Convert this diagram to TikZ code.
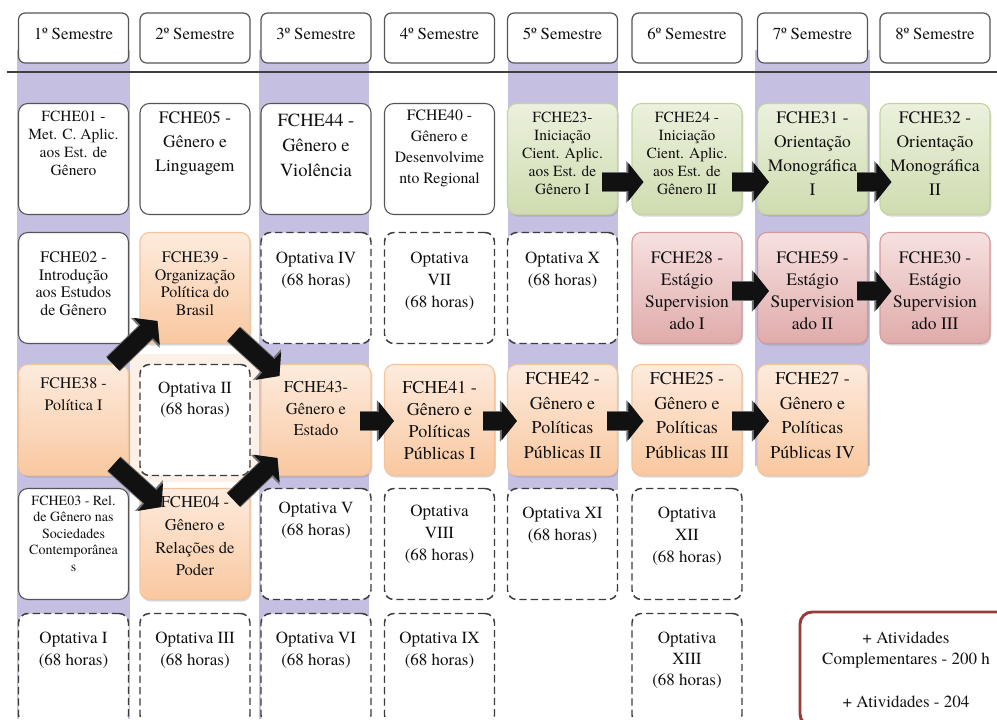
\documentclass[tikz,border=0pt]{standalone}
\usepackage{fontspec}
\setmainfont{texgyretermes-regular.otf}
\usetikzlibrary{arrows.meta,shadows}
\definecolor{lav}{HTML}{C5BFE2}
\definecolor{boxgray}{HTML}{555555}
\definecolor{dashgray}{HTML}{3C3C3C}
\definecolor{greentop}{HTML}{EBF1DD}
\definecolor{greenbot}{HTML}{CFDCB0}
\definecolor{greenedge}{HTML}{C3D49F}
\definecolor{pinktop}{HTML}{F6E1E0}
\definecolor{pinkbot}{HTML}{DFABAA}
\definecolor{pinkedge}{HTML}{D59A98}
\definecolor{peachtop}{HTML}{FDEBDD}
\definecolor{peachbot}{HTML}{F9C8A0}
\definecolor{peachedge}{HTML}{F5C39B}
\definecolor{peachglow}{HTML}{FDF1E7}
\definecolor{ativred}{HTML}{9A3B3A}
\definecolor{arrowblk}{HTML}{111111}
\definecolor{arrowedge}{HTML}{707070}
\definecolor{textcol}{HTML}{111111}
\definecolor{headline}{HTML}{404040}
\tikzset{
  cellbase/.style={rounded corners=7pt, minimum width=82.5pt, minimum height=83.25pt, inner sep=0pt, line width=0.8pt},
  plainbox/.style={cellbase, draw=boxgray, fill=white},
  optbox/.style={cellbase, draw=dashgray, fill=white, line width=1.1pt, dash pattern=on 5.5pt off 3pt},
  boxshadow/.style={drop shadow={shadow xshift=1pt, shadow yshift=-1.5pt, opacity=0.3}},
  greenbox/.style={cellbase, boxshadow, draw=greenedge, top color=greentop, bottom color=greenbot},
  pinkbox/.style={cellbase, boxshadow, draw=pinkedge, top color=pinktop, bottom color=pinkbot},
  peachbox/.style={cellbase, boxshadow, draw=peachedge, top color=peachtop, bottom color=peachbot},
  headbox/.style={rounded corners=5pt, minimum width=82.5pt, minimum height=37.5pt, inner sep=0pt, draw=boxgray, line width=0.9pt, fill=white},
  celltext/.style={anchor=north, align=center, inner sep=0pt, text=textcol},
  ativbox/.style={rounded corners=9pt, minimum width=159pt, minimum height=85.5pt, inner sep=0pt, draw=ativred, line width=2.2pt, fill=white},
  blockarrow/.style={draw=arrowblk, line width=13.5pt, -{Triangle[length=11.25pt,width=27.75pt]},
    preaction={draw=arrowedge, line width=15pt, -{Triangle[length=12.75pt,width=30.5pt]}}}
}
\newcommand\mycell[8]{%
  \node[#2] (#1) at (#3,#4) {};
  \node[celltext, font=\fontsize{#6}{#7}\selectfont] (#1t) at (#3,{#5-0.44*#6}) {#8};%
}
\newcommand\myhead[3]{%
  \node[headbox] (#1) at (#2,38) {};
  \node[celltext, font=\fontsize{12.6}{14}\selectfont] (#1t) at (#2,{33-0.44*12.6}) {#3};%
}
\begin{document}
\begin{tikzpicture}[x=0.75pt,y=-0.75pt]
\useasboundingbox (0,0) rectangle (997,719);
\clip (0,0) rectangle (997,719);
\fill[white] (0,0) rectangle (997,719);
% lavender columns
\fill[lav] (17,50) rectangle (130,719);
\fill[lav] (259,50) rectangle (369,719);
\fill[lav] (508,50) rectangle (618,490);
\fill[lav] (755,50) rectangle (870,466);
\fill[peachglow] (130,354) rectangle (259,482);
% headers
\myhead{h1}{73.5}{1º Semestre}
\myhead{h2}{195}{2º Semestre}
\myhead{h3}{316}{3º Semestre}
\myhead{h4}{439.5}{4º Semestre}
\myhead{h5}{562.5}{5º Semestre}
\myhead{h6}{687}{6º Semestre}
\myhead{h7}{812.5}{7º Semestre}
\myhead{h8}{935}{8º Semestre}
\draw[headline, line width=1pt] (7,72) -- (997,72);
% row 1
\mycell{c11}{plainbox}{73.5}{159}{116}{11.6}{13.5}{FCHE01 -\\Met. C. Aplic.\\aos Est. de\\Gênero}
\mycell{c21}{plainbox}{195}{159}{117}{13.1}{18}{FCHE05 -\\Gênero e\\Linguagem}
\mycell{c31}{plainbox}{316}{159}{120}{13.9}{18.75}{FCHE44 -\\Gênero e\\Violência}
\mycell{c41}{plainbox}{439.5}{159}{115}{11.8}{15.75}{FCHE40 -\\Gênero e\\Desenvolvime\\nto Regional}
\mycell{c51}{greenbox}{562.5}{159}{117}{11.6}{13.5}{FCHE23-\\Iniciação\\Cient. Aplic.\\aos Est. de\\Gênero I}
\mycell{c61}{greenbox}{687}{159}{117}{11.6}{13.5}{FCHE24 -\\Iniciação\\Cient. Aplic.\\aos Est. de\\Gênero II}
\mycell{c71}{greenbox}{812.5}{159}{117}{13.1}{18}{FCHE31 -\\Orientação\\Monográfica\\I}
\mycell{c81}{greenbox}{935}{159}{117}{13.1}{18}{FCHE32 -\\Orientação\\Monográfica\\II}
% row 2
\mycell{c12}{plainbox}{73.5}{288}{257}{12}{13.1}{FCHE02 -\\Introdução\\aos Estudos\\de Gênero}
\mycell{c22}{peachbox}{195}{288}{257}{12}{13.1}{FCHE39 -\\Organização\\Política do\\Brasil}
\mycell{c32}{optbox}{316}{288}{257}{12.75}{16.5}{Optativa IV\\(68 horas)}
\mycell{c42}{optbox}{439.5}{288}{257}{12.75}{16.5}{Optativa\\VII\\(68 horas)}
\mycell{c52}{optbox}{562.5}{288}{257}{12.75}{16.5}{Optativa X\\(68 horas)}
\mycell{c62}{pinkbox}{687}{288}{257}{13.1}{16.5}{FCHE28 -\\Estágio\\Supervision\\ado I}
\mycell{c72}{pinkbox}{812.5}{288}{257}{13.1}{16.5}{FCHE59 -\\Estágio\\Supervision\\ado II}
\mycell{c82}{pinkbox}{935}{288}{257}{13.1}{16.5}{FCHE30 -\\Estágio\\Supervision\\ado III}
% row 3
\mycell{c13}{peachbox}{73.5}{420}{383}{12}{16.5}{FCHE38 -\\Política I}
\mycell{c23}{optbox}{195}{420}{387}{12.75}{15.75}{Optativa II\\(68 horas)}
\mycell{c33}{peachbox}{316}{420}{387}{12.4}{16.1}{FCHE43-\\Gênero e\\Estado}
\mycell{c43}{peachbox}{439.5}{420}{387}{13.5}{16.5}{FCHE41 -\\Gênero e\\Políticas\\Públicas I}
\mycell{c53}{peachbox}{562.5}{420}{378}{13.5}{18.4}{FCHE42 -\\Gênero e\\Políticas\\Públicas II}
\mycell{c63}{peachbox}{687}{420}{378}{13.5}{18.4}{FCHE25 -\\Gênero e\\Políticas\\Públicas III}
\mycell{c73}{peachbox}{812.5}{420}{378}{13.5}{18.4}{FCHE27 -\\Gênero e\\Políticas\\Públicas IV}
% row 4
\mycell{c14}{plainbox}{73.5}{544}{500}{10.5}{12.4}{FCHE03 - Rel.\\de Gênero nas\\Sociedades\\Contemporânea\\s}
\mycell{c24}{peachbox}{195}{544}{502}{12.4}{16.9}{FCHE04 -\\Gênero e\\Relações de\\Poder}
\mycell{c34}{optbox}{316}{544}{507}{12.75}{16.5}{Optativa V\\(68 horas)}
\mycell{c44}{optbox}{439.5}{544}{510}{12.75}{16.5}{Optativa\\VIII\\(68 horas)}
\mycell{c54}{optbox}{562.5}{544}{512}{12.75}{16.5}{Optativa XI\\(68 horas)}
\mycell{c64}{optbox}{687}{544}{512}{12.75}{16.5}{Optativa\\XII\\(68 horas)}
% row 5
\mycell{c15}{optbox}{73.5}{669}{637}{12.75}{16.5}{Optativa I\\(68 horas)}
\mycell{c25}{optbox}{195}{669}{637}{12.75}{16.5}{Optativa III\\(68 horas)}
\mycell{c35}{optbox}{316}{669}{637}{12.75}{16.5}{Optativa VI\\(68 horas)}
\mycell{c45}{optbox}{439.5}{669}{637}{12.75}{16.5}{Optativa IX\\(68 horas)}
\mycell{c65}{optbox}{687}{669}{637}{12.75}{16}{Optativa\\XIII\\(68 horas)}
% atividades
\node[ativbox] (ativ) at (906,669) {};
\node[celltext, font=\fontsize{12.75}{15.75}\selectfont] (ativt) at (906,{637-0.44*12.75}) {+ Atividades\\Complementares - 200 h\\[17pt]+ Atividades - 204};
% horizontal arrows
\draw[blockarrow] ([shift={(-16,23)}]c51.east) -- ([shift={(12,23)}]c61.west);
\draw[blockarrow] ([shift={(-11,23)}]c61.east) -- ([shift={(12,23)}]c71.west);
\draw[blockarrow] ([shift={(-11,23)}]c71.east) -- ([shift={(12,23)}]c81.west);
\draw[blockarrow] ([shift={(-11,3)}]c62.east) -- ([shift={(12,3)}]c72.west);
\draw[blockarrow] ([shift={(-11,3)}]c72.east) -- ([shift={(12,3)}]c82.west);
\draw[blockarrow] ([shift={(-12,1)}]c33.east) -- ([shift={(10,1)}]c43.west);
\draw[blockarrow] ([shift={(-12,1)}]c43.east) -- ([shift={(10,1)}]c53.west);
\draw[blockarrow] ([shift={(-11,1)}]c53.east) -- ([shift={(12,1)}]c63.west);
\draw[blockarrow] ([shift={(-11,1)}]c63.east) -- ([shift={(12,1)}]c73.west);
% diagonal arrows
\draw[blockarrow] ([shift={(-16,0)}]c13.north east) -- ([shift={(18,-23)}]c22.south west);
\draw[blockarrow] ([shift={(-17,-10)}]c22.south east) -- ([shift={(19,12)}]c33.north west);
\draw[blockarrow] ([shift={(-15,-12)}]c13.south east) -- ([shift={(22,19)}]c24.north west);
\draw[blockarrow] ([shift={(-17,12)}]c24.north east) -- ([shift={(17,-18)}]c33.south west);
\end{tikzpicture}
\end{document}
